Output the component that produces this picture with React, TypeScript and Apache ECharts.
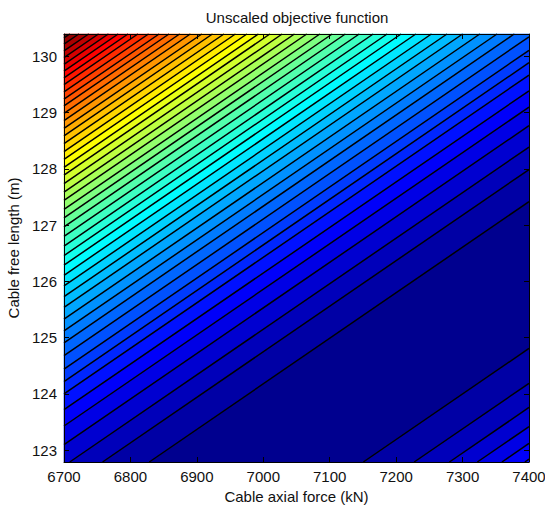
import React, { useEffect, useRef } from "react";
import * as echarts from "echarts";

// ---- Texts ----
const chartTitle = "Unscaled objective function";
const xAxisName = "Cable axial force (kN)";
const yAxisName = "Cable free length (m)";

// ---- Axes ----
const forceRange = [6700, 7400];
const forceTickStep = 100;
const lengthRange = [122.79, 130.4];

// ---- Contour geometry ----
// Iso-lines are straight & parallel; slope in m per kN
const isoSlope = 0.0081;
// Free length (m) at 6700 kN of each contour line above the valley (extended), nearest first
const upperContours = [
  121.75, 122.32, 122.72, 123.1, 123.43, 123.72, 124.0, 124.22, 124.44, 124.68,
  124.91, 125.12, 125.33, 125.54, 125.73, 125.92, 126.11, 126.29, 126.46, 126.63,
  126.8, 126.97, 127.13, 127.28, 127.44, 127.59, 127.74, 127.89, 128.03, 128.17,
  128.31, 128.45, 128.59, 128.72, 128.86, 128.99, 129.12, 129.24, 129.37, 129.5,
  129.62, 129.74, 129.86, 129.98, 130.1, 130.22, 130.33,
];
// Free length (m) at 6700 kN of each contour line below the valley (extended), nearest first
const lowerContours = [119.14, 118.52, 118.09, 117.75, 117.45, 117.17];

const FONT = "'Liberation Sans', Arial, Helvetica, sans-serif";

// MATLAB jet (64 entries) sampled continuously
function jet(s: number): string {
  const t = (1 + 63 * s) / 64;
  const c = (v: number) => Math.max(0, Math.min(1, v));
  const r = c(Math.min(4 * t - 1.5, -4 * t + 4.5));
  const g = c(Math.min(4 * t - 0.5, -4 * t + 3.5));
  const b = c(Math.min(4 * t + 0.5, -4 * t + 2.5));
  return `rgb(${Math.round(r * 255)},${Math.round(g * 255)},${Math.round(b * 255)})`;
}

function clipHalf(
  poly: number[][],
  keep: (p: number[]) => boolean,
  cut: (a: number[], b: number[]) => number[]
) {
  const out: number[][] = [];
  for (let i = 0; i < poly.length; i++) {
    const cur = poly[i];
    const prev = poly[(i + poly.length - 1) % poly.length];
    const cin = keep(cur);
    const pin = keep(prev);
    if (cin) {
      if (!pin) out.push(cut(prev, cur));
      out.push(cur);
    } else if (pin) {
      out.push(cut(prev, cur));
    }
  }
  return out;
}
const cutAtL = (lc: number) => (a: number[], b: number[]) => {
  const t = (lc - a[1]) / (b[1] - a[1]);
  return [a[0] + t * (b[0] - a[0]), lc];
};

export default function App() {
  const ref = useRef<HTMLDivElement>(null);

  useEffect(() => {
    if (!ref.current) return;
    const chart = echarts.init(ref.current, null, { renderer: "svg" });

    const [F0, F1] = forceRange;
    const [L0, L1] = lengthRange;
    const rise = isoSlope * (F1 - F0);
    const maxLevel = upperContours.length;

    // bands: [uLow, uHigh, level]
    const bands: number[][] = [];
    for (let k = lowerContours.length; k >= 1; k--) {
      const lo = k === lowerContours.length ? L0 - rise - 10 : lowerContours[k];
      bands.push([lo, lowerContours[k - 1], k]);
    }
    bands.push([lowerContours[0], upperContours[0], 0]);
    for (let k = 1; k <= upperContours.length; k++) {
      const hi = k === upperContours.length ? L1 + 10 : upperContours[k];
      bands.push([upperContours[k - 1], hi, k]);
    }
    const lines = [...lowerContours, ...upperContours].map((u) => [u]);

    const axisCommon = {
      axisLine: { show: true, lineStyle: { color: "#000", width: 1 } },
      axisTick: { show: true, inside: true, length: 5, lineStyle: { color: "#000", width: 1 } },
      splitLine: { show: false },
      z: 10,
    };
    const labelStyle = { color: "#111", fontSize: 15, fontFamily: FONT };
    const yFmt = (v: number) =>
      Math.abs(v - Math.round(v)) < 1e-6 ? String(Math.round(v)) : "";

    chart.setOption({
      animation: false,
      backgroundColor: "#fff",
      grid: {
        left: 64,
        right: 16,
        top: 34,
        bottom: 44,
        containLabel: false,
        outerBoundsMode: "none",
      },
      graphic: [
        {
          type: "text",
          x: 297,
          y: 17,
          style: {
            text: chartTitle,
            fill: "#111",
            font: `15px ${FONT}`,
            textAlign: "center",
            textVerticalAlign: "middle",
          },
        },
      ],
      xAxis: [
        {
          type: "value",
          min: F0,
          max: F1,
          interval: forceTickStep,
          position: "bottom",
          ...axisCommon,
          axisLabel: {
            ...labelStyle,
            margin: 7,
            showMinLabel: true,
            showMaxLabel: true,
            formatter: (v: number) => String(v),
          },
          name: xAxisName,
          nameLocation: "middle",
          nameGap: 27,
          nameTextStyle: labelStyle,
        },
        {
          type: "value",
          min: F0,
          max: F1,
          interval: forceTickStep,
          position: "top",
          ...axisCommon,
          axisLabel: { show: false },
        },
      ],
      yAxis: [
        {
          type: "value",
          min: L0,
          max: L1,
          splitNumber: 7,
          position: "left",
          ...axisCommon,
          axisLabel: { ...labelStyle, margin: 7, formatter: yFmt, showMinLabel: false, showMaxLabel: false },
          name: yAxisName,
          nameLocation: "middle",
          nameGap: 40,
          nameTextStyle: labelStyle,
        },
        {
          type: "value",
          min: L0,
          max: L1,
          splitNumber: 7,
          position: "right",
          ...axisCommon,
          axisLabel: { show: false },
        },
      ],
      series: [
        {
          type: "custom",
          xAxisIndex: 0,
          yAxisIndex: 0,
          silent: true,
          data: bands,
          renderItem: (params: any, api: any) => {
            const uLo = api.value(0);
            const uHi = api.value(1);
            const level = api.value(2);
            let poly = [
              [F0, uLo],
              [F1, uLo + rise],
              [F1, uHi + rise],
              [F0, uHi],
            ];
            poly = clipHalf(poly, (p) => p[1] >= L0, cutAtL(L0));
            if (poly.length < 3) return null;
            poly = clipHalf(poly, (p) => p[1] <= L1, cutAtL(L1));
            if (poly.length < 3) return null;
            const color = jet(level / maxLevel);
            return {
              type: "polygon",
              shape: { points: poly.map((p) => api.coord(p)) },
              style: { fill: color, stroke: color, lineWidth: 0.6 },
            };
          },
        },
        {
          type: "custom",
          xAxisIndex: 0,
          yAxisIndex: 0,
          silent: true,
          data: lines,
          renderItem: (params: any, api: any) => {
            const u = api.value(0);
            const tMin = Math.max(0, (L0 - u) / rise);
            const tMax = Math.min(1, (L1 - u) / rise);
            if (tMin >= tMax) return null;
            const a = api.coord([F0 + tMin * (F1 - F0), u + tMin * rise]);
            const b = api.coord([F0 + tMax * (F1 - F0), u + tMax * rise]);
            return {
              type: "line",
              shape: { x1: a[0], y1: a[1], x2: b[0], y2: b[1] },
              style: { stroke: "#000", lineWidth: 1.5 },
            };
          },
        },
      ],
    });

    return () => chart.dispose();
  }, []);

  return (
    <div
      ref={ref}
      style={{ position: "fixed", left: 0, top: 0, width: 545, height: 506, background: "#fff" }}
    />
  );
}
